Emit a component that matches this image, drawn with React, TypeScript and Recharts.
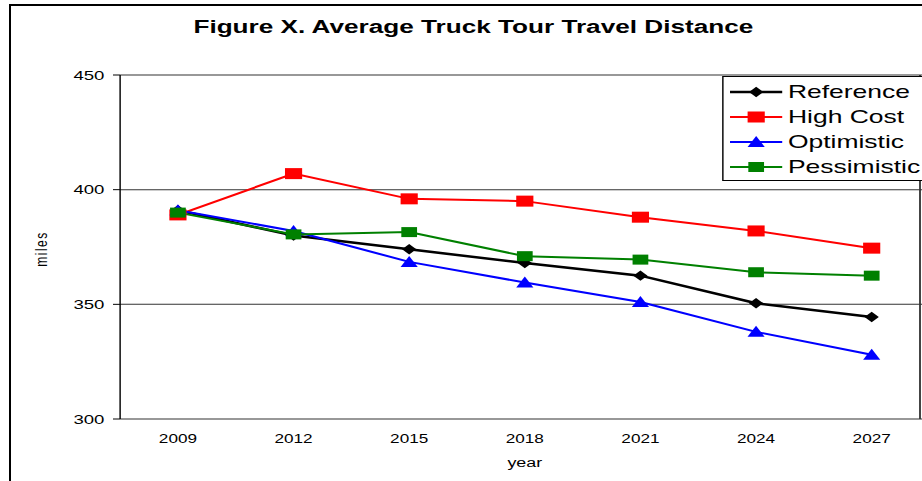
import React from 'react';
import { LineChart, Line, XAxis, YAxis, CartesianGrid, Legend } from 'recharts';

const years = ['2009', '2012', '2015', '2018', '2021', '2024', '2027'];
const reference = [391, 380, 374, 368, 362.5, 350.5, 344.5];
const highCost = [389, 407, 396, 395, 388, 382, 374.5];
const optimistic = [391, 382, 368.5, 359.5, 351, 338, 328];
const pessimistic = [390, 380.5, 381.5, 371, 369.5, 364, 362.5];
const yTicks = [300, 350, 400, 450];

// the source picture is stretched sideways, so the chart is drawn narrow and scaled in x
const STRETCH = 1.43;
const FONT = '"Liberation Sans", Arial, sans-serif';

const data = years.map((year, i) => ({
    idx: i,
    year,
    reference: reference[i],
    highCost: highCost[i],
    optimistic: optimistic[i],
    pessimistic: pessimistic[i],
}));

const series = [
    { key: 'reference', name: 'Reference', color: '#000000', shape: 'diamond', width: 2.5 },
    { key: 'highCost', name: 'High Cost', color: '#FF0000', shape: 'bigSquare', width: 2 },
    { key: 'optimistic', name: 'Optimistic', color: '#0000FF', shape: 'triangle', width: 2 },
    { key: 'pessimistic', name: 'Pessimistic', color: '#008000', shape: 'square', width: 2 },
];

const Marker = ({ cx, cy, shape, color }: { cx: number; cy: number; shape: string; color: string }) => {
    if (shape === 'diamond') {
        return <polygon points={`${cx},${cy - 5.2} ${cx + 5},${cy} ${cx},${cy + 5.2} ${cx - 5},${cy}`} fill={color} />;
    }
    if (shape === 'triangle') {
        return <polygon points={`${cx},${cy - 6} ${cx + 6},${cy + 5} ${cx - 6},${cy + 5}`} fill={color} />;
    }
    const w = shape === 'bigSquare' ? 12 : 11;
    const h = shape === 'bigSquare' ? 11 : 10;
    return <rect x={cx - w / 2} y={cy - h / 2} width={w} height={h} fill={color} />;
};

const LegendBox = () => (
    <div
        style={{
            width: 143,
            height: 105,
            background: '#fff',
            border: '1px solid #000',
            boxSizing: 'border-box',
            position: 'relative',
            fontFamily: FONT,
        }}
    >
        {series.map((s, i) => (
            <div key={s.key} style={{ position: 'absolute', left: 0, top: 5 + i * 25, height: 20, width: 150 }}>
                <svg width={46} height={20} style={{ position: 'absolute', left: 0, top: 0 }}>
                    <line x1={4.5} x2={41} y1={10} y2={10} stroke={s.color} strokeWidth={s.width} />
                    <Marker cx={22.8} cy={10} shape={s.shape} color={s.color} />
                </svg>
                <span
                    style={{
                        position: 'absolute',
                        left: 45,
                        top: 0,
                        fontSize: 18.5,
                        lineHeight: '20px',
                        color: '#000',
                        whiteSpace: 'nowrap',
                    }}
                >
                    {s.name}
                </span>
            </div>
        ))}
    </div>
);

export default function App() {
    return (
        <div style={{ position: 'relative', width: 922, height: 481, overflow: 'hidden', background: '#fff' }}>
            <style>{'body{margin:0}'}</style>
            <div style={{ position: 'absolute', left: 919, top: 75, width: 2, height: 344, background: '#444' }} />
            <div
                style={{
                    position: 'absolute',
                    left: 0,
                    top: 0,
                    width: 660,
                    height: 481,
                    transform: `scaleX(${STRETCH})`,
                    transformOrigin: '0 0',
                    fontFamily: FONT,
                }}
            >
                <div
                    style={{
                        position: 'absolute',
                        left: 0,
                        top: 18,
                        width: 662,
                        textAlign: 'center',
                        fontSize: 18.3,
                        fontWeight: 'bold',
                        lineHeight: '18px',
                        color: '#000',
                        whiteSpace: 'nowrap',
                    }}
                >
                    Figure X. Average Truck Tour Travel Distance
                </div>
                <div
                    style={{
                        position: 'absolute',
                        left: 29.4,
                        top: 249,
                        transform: 'translate(-50%, -50%) rotate(-90deg)',
                        fontSize: 12,
                        letterSpacing: 1.5,
                        lineHeight: '12px',
                        color: '#000',
                        whiteSpace: 'nowrap',
                    }}
                >
                    miles
                </div>
                <div
                    style={{
                        position: 'absolute',
                        left: 367,
                        top: 457,
                        transform: 'translateX(-50%)',
                        fontSize: 12.5,
                        lineHeight: '12.5px',
                        color: '#000',
                    }}
                >
                    year
                </div>
                <LineChart
                    width={660}
                    height={481}
                    data={data}
                    margin={{ top: 75, right: 10, left: 24, bottom: 32 }}
                    style={{ fontFamily: FONT }}
                >
                    <CartesianGrid horizontal vertical={false} stroke="#333" strokeWidth={1} />
                    <XAxis
                        dataKey="idx"
                        type="number"
                        domain={[-0.5, 6.5]}
                        ticks={[-0.5, 0.5, 1.5, 2.5, 3.5, 4.5, 5.5, 6.5]}
                        interval={0}
                        height={0}
                        tick={false}
                        tickSize={6}
                        axisLine={{ stroke: '#000', strokeWidth: 1 }}
                        tickLine={{ stroke: '#000', strokeWidth: 1 }}
                        allowDecimals
                    />
                    <XAxis
                        xAxisId="years"
                        dataKey="idx"
                        type="number"
                        domain={[-0.5, 6.5]}
                        ticks={[0, 1, 2, 3, 4, 5, 6]}
                        interval={0}
                        height={30}
                        axisLine={false}
                        tickLine={false}
                        tickSize={8}
                        tickMargin={7}
                        tickFormatter={(v) => years[v]}
                        tick={{ fill: '#000', fontSize: 12 }}
                    />
                    <YAxis
                        domain={[300, 450]}
                        ticks={yTicks}
                        interval={0}
                        width={60}
                        tickSize={5}
                        tickMargin={6}
                        axisLine={{ stroke: '#000', strokeWidth: 1 }}
                        tickLine={{ stroke: '#000', strokeWidth: 1 }}
                        tick={{ fill: '#000', fontSize: 13 }}
                    />
                    <Legend
                        layout="vertical"
                        align="center"
                        verticalAlign="middle"
                        content={() => <LegendBox />}
                        wrapperStyle={{ left: 505, top: 76, width: 143, height: 105, right: 'auto', bottom: 'auto' }}
                    />
                    {series.map((s) => (
                        <Line
                            key={s.key}
                            dataKey={s.key}
                            name={s.name}
                            stroke={s.color}
                            strokeWidth={s.width}
                            isAnimationActive={false}
                            dot={(p: any) => (
                                <Marker key={`${s.key}-${p.index}`} cx={p.cx} cy={p.cy} shape={s.shape} color={s.color} />
                            )}
                            activeDot={false}
                        />
                    ))}
                </LineChart>
            </div>
            <div
                style={{
                    position: 'absolute',
                    left: 9,
                    top: 4,
                    width: 2000,
                    height: 2000,
                    border: '2px solid #000',
                    pointerEvents: 'none',
                }}
            />
        </div>
    );
}
